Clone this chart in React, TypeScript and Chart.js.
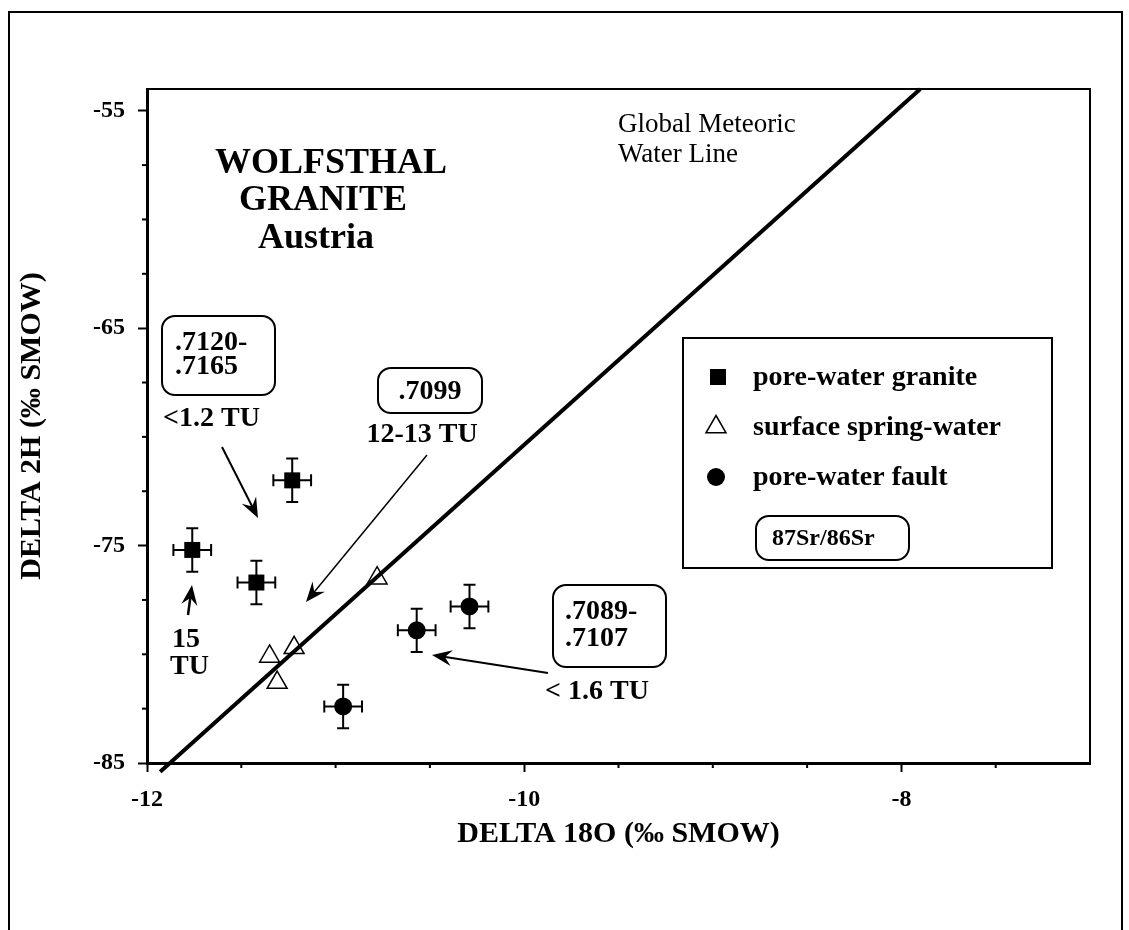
import React, { useEffect, useRef } from 'react';
import { Chart, registerables } from 'chart.js';

Chart.register(...registerables);

// ---------------- data ----------------
const granitX = [-11.76, -11.23, -11.42];
const granitY = [-75.2, -72.0, -76.7];
const granitXErr = [0.1, 0.1, 0.1];
const granitYErr = [1.0, 1.0, 1.0];

const springX = [-10.78, -11.35, -11.22, -11.31];
const springY = [-76.5, -80.1, -79.7, -81.3];

const faultX = [-10.29, -10.57, -10.96];
const faultY = [-77.8, -78.9, -82.4];
const faultXErr = [0.1, 0.1, 0.1];
const faultYErr = [1.0, 1.0, 1.0];

const gmwlX = [-11.93, -7.9];
const gmwlY = [-85.4, -54.0];

const xMajorTicks = [-12, -10, -8];
const xMinorTicks = [-11.5, -11, -10.5, -9.5, -9, -8.5, -7.5];
const yMajorTicks = [-85, -75, -65, -55];
const yMinorTicks = [-82.5, -80, -77.5, -72.5, -70, -67.5, -62.5, -60, -57.5];

const xMin = -12;
const xMax = -7;
const yMin = -85;
const yMax = -54;

const seriesNames = ['pore-water granite', 'surface spring-water', 'pore-water fault'];
const ratioLegendText = '87Sr/86Sr';

// ---------------- layout ----------------
const W = 1129;
const H = 930;
const PLOT_LEFT = 147;
const PLOT_RIGHT = 1090;
const PLOT_TOP = 89;
const PLOT_BOTTOM = 763;
const SERIF = '"Liberation Serif", "Times New Roman", serif';

const toPts = (xs: number[], ys: number[]) => xs.map((x, i) => ({ x, y: ys[i] }));

// annotations, positions relative to chart area top-left (pixels)
type Txt = { t: string; dx: number; dy: number; size: number; bold: boolean; align: CanvasTextAlign; base: CanvasTextBaseline };
const texts: Txt[] = [
  { t: 'WOLFSTHAL', dx: 184, dy: 84, size: 36, bold: true, align: 'center', base: 'alphabetic' },
  { t: 'GRANITE', dx: 176, dy: 121, size: 36, bold: true, align: 'center', base: 'alphabetic' },
  { t: 'Austria', dx: 169, dy: 159, size: 36, bold: true, align: 'center', base: 'alphabetic' },
  { t: 'Global Meteoric', dx: 471, dy: 43, size: 27, bold: false, align: 'left', base: 'alphabetic' },
  { t: 'Water Line', dx: 471, dy: 73, size: 27, bold: false, align: 'left', base: 'alphabetic' },
  { t: '.7120-', dx: 28, dy: 254, size: 28, bold: true, align: 'left', base: 'middle' },
  { t: '.7165', dx: 28, dy: 278, size: 28, bold: true, align: 'left', base: 'middle' },
  { t: '<1.2 TU', dx: 16, dy: 330, size: 28, bold: true, align: 'left', base: 'middle' },
  { t: '.7099', dx: 283, dy: 303, size: 28, bold: true, align: 'center', base: 'middle' },
  { t: '12-13 TU', dx: 275, dy: 346, size: 28, bold: true, align: 'center', base: 'middle' },
  { t: '.7089-', dx: 418, dy: 523, size: 28, bold: true, align: 'left', base: 'middle' },
  { t: '.7107', dx: 418, dy: 550, size: 28, bold: true, align: 'left', base: 'middle' },
  { t: '< 1.6 TU', dx: 398, dy: 603, size: 28, bold: true, align: 'left', base: 'middle' },
  { t: '15', dx: 25, dy: 551, size: 28, bold: true, align: 'left', base: 'middle' },
  { t: 'TU', dx: 23, dy: 578, size: 28, bold: true, align: 'left', base: 'middle' },
];
const boxes = [
  { dx: 15, dy: 227, w: 113, h: 79 },
  { dx: 231, dy: 279, w: 104, h: 45 },
  { dx: 406, dy: 496, w: 113, h: 82 },
];
const arrows = [
  { x1: 75, y1: 358, x2: 111, y2: 429, lw: 2 },
  { x1: 280, y1: 366, x2: 159, y2: 513, lw: 1.5 },
  { x1: 41, y1: 526, x2: 45, y2: 496, lw: 2.5 },
  { x1: 401, y1: 584, x2: 285, y2: 566, lw: 2 },
];
const legendBox = { dx: 536, dy: 249, w: 369, h: 230 };
const legendRows = [
  { mx: 571, my: 288 },
  { mx: 569, my: 338 },
  { mx: 569, my: 388 },
];
const legendTextDx = 606;
const ratioBox = { dx: 609, dy: 427, w: 153, h: 44 };

function roundRect(ctx: CanvasRenderingContext2D, x: number, y: number, w: number, h: number, r: number) {
  ctx.beginPath();
  ctx.moveTo(x + r, y);
  ctx.lineTo(x + w - r, y);
  ctx.arcTo(x + w, y, x + w, y + r, r);
  ctx.lineTo(x + w, y + h - r);
  ctx.arcTo(x + w, y + h, x + w - r, y + h, r);
  ctx.lineTo(x + r, y + h);
  ctx.arcTo(x, y + h, x, y + h - r, r);
  ctx.lineTo(x, y + r);
  ctx.arcTo(x, y, x + r, y, r);
  ctx.closePath();
}

function drawArrow(ctx: CanvasRenderingContext2D, x1: number, y1: number, x2: number, y2: number, lw: number) {
  const ang = Math.atan2(y2 - y1, x2 - x1);
  const c = Math.cos(ang);
  const s = Math.sin(ang);
  const L = 20;
  const hw = 8;
  const p = (along: number, perp: number): [number, number] => [x2 - c * along - s * perp, y2 - s * along + c * perp];
  ctx.lineWidth = lw;
  ctx.beginPath();
  ctx.moveTo(x1, y1);
  const b = p(L * 0.6, 0);
  ctx.lineTo(b[0], b[1]);
  ctx.stroke();
  ctx.beginPath();
  ctx.moveTo(x2, y2);
  const a1 = p(L, hw);
  const a2 = p(L * 0.65, 0);
  const a3 = p(L, -hw);
  ctx.lineTo(a1[0], a1[1]);
  ctx.lineTo(a2[0], a2[1]);
  ctx.lineTo(a3[0], a3[1]);
  ctx.closePath();
  ctx.fill();
}

const minorTickPlugin = {
  id: 'minorTicks',
  afterDraw(chart: any) {
    const ctx = chart.ctx as CanvasRenderingContext2D;
    const xs = chart.scales.x;
    const ys = chart.scales.y;
    const a = chart.chartArea;
    ctx.save();
    ctx.strokeStyle = '#000';
    ctx.lineWidth = 2;
    xMinorTicks.forEach((v) => {
      const px = xs.getPixelForValue(v);
      ctx.beginPath();
      ctx.moveTo(px, a.bottom);
      ctx.lineTo(px, a.bottom + 5);
      ctx.stroke();
    });
    yMinorTicks.forEach((v) => {
      const py = ys.getPixelForValue(v);
      ctx.beginPath();
      ctx.moveTo(a.left, py);
      ctx.lineTo(a.left - 5, py);
      ctx.stroke();
    });
    ctx.restore();
  },
};

const framePlugin = {
  id: 'frames',
  afterDraw(chart: any) {
    const ctx = chart.ctx as CanvasRenderingContext2D;
    const a = chart.chartArea;
    ctx.save();
    ctx.strokeStyle = '#000';
    ctx.lineWidth = 2;
    ctx.beginPath();
    ctx.moveTo(a.left, a.top);
    ctx.lineTo(a.right, a.top);
    ctx.lineTo(a.right, a.bottom);
    ctx.stroke();
    ctx.lineWidth = 2;
    ctx.beginPath();
    ctx.moveTo(9, H + 5);
    ctx.lineTo(9, 12);
    ctx.lineTo(1122, 12);
    ctx.lineTo(1122, H + 5);
    ctx.stroke();
    ctx.restore();
  },
};

const errorBarPlugin = {
  id: 'errorBars',
  beforeDatasetDraw(chart: any, args: any) {
    const ds = chart.data.datasets[args.index] as any;
    if (!ds.xErr) return;
    const ctx = chart.ctx as CanvasRenderingContext2D;
    const xs = chart.scales.x;
    const ys = chart.scales.y;
    ctx.save();
    ctx.strokeStyle = '#000';
    ctx.lineWidth = 2;
    const cap = 6;
    ds.data.forEach((pt: any, i: number) => {
      const px = xs.getPixelForValue(pt.x);
      const py = ys.getPixelForValue(pt.y);
      const xl = xs.getPixelForValue(pt.x - ds.xErr[i]);
      const xr = xs.getPixelForValue(pt.x + ds.xErr[i]);
      const yt = ys.getPixelForValue(pt.y + ds.yErr[i]);
      const yb = ys.getPixelForValue(pt.y - ds.yErr[i]);
      ctx.beginPath();
      ctx.moveTo(xl, py); ctx.lineTo(xr, py);
      ctx.moveTo(xl, py - cap); ctx.lineTo(xl, py + cap);
      ctx.moveTo(xr, py - cap); ctx.lineTo(xr, py + cap);
      ctx.moveTo(px, yt); ctx.lineTo(px, yb);
      ctx.moveTo(px - cap, yt); ctx.lineTo(px + cap, yt);
      ctx.moveTo(px - cap, yb); ctx.lineTo(px + cap, yb);
      ctx.stroke();
    });
    ctx.restore();
  },
};

const annotationPlugin = {
  id: 'annotations',
  afterDraw(chart: any) {
    const ctx = chart.ctx as CanvasRenderingContext2D;
    const a = chart.chartArea;
    const L = a.left;
    const T = a.top;
    ctx.save();
    ctx.fillStyle = '#000';
    ctx.strokeStyle = '#000';
    texts.forEach((t) => {
      ctx.font = `${t.bold ? 'bold ' : ''}${t.size}px ${SERIF}`;
      ctx.textAlign = t.align;
      ctx.textBaseline = t.base;
      ctx.fillText(t.t, L + t.dx, T + t.dy);
    });
    ctx.lineWidth = 2;
    boxes.forEach((b) => {
      roundRect(ctx, L + b.dx, T + b.dy, b.w, b.h, 13);
      ctx.stroke();
    });
    arrows.forEach((r) => drawArrow(ctx, L + r.x1, T + r.y1, L + r.x2, T + r.y2, r.lw));

    // legend
    ctx.lineWidth = 2;
    ctx.strokeRect(L + legendBox.dx, T + legendBox.dy, legendBox.w, legendBox.h);
    const [r0, r1, r2] = legendRows;
    ctx.fillRect(L + r0.mx - 8, T + r0.my - 8, 16, 16);
    ctx.beginPath();
    ctx.moveTo(L + r1.mx, T + r1.my - 11.5);
    ctx.lineTo(L + r1.mx + 10, T + r1.my + 5.75);
    ctx.lineTo(L + r1.mx - 10, T + r1.my + 5.75);
    ctx.closePath();
    ctx.lineWidth = 1.5;
    ctx.stroke();
    ctx.beginPath();
    ctx.arc(L + r2.mx, T + r2.my, 9, 0, Math.PI * 2);
    ctx.fill();
    ctx.font = `bold 28px ${SERIF}`;
    ctx.textAlign = 'left';
    ctx.textBaseline = 'middle';
    legendRows.forEach((r, i) => ctx.fillText(seriesNames[i], L + legendTextDx, T + r.my + 1));
    ctx.lineWidth = 2;
    roundRect(ctx, L + ratioBox.dx, T + ratioBox.dy, ratioBox.w, ratioBox.h, 13);
    ctx.stroke();
    ctx.font = `bold 24px ${SERIF}`;
    ctx.fillText(ratioLegendText, L + ratioBox.dx + 16, T + ratioBox.dy + ratioBox.h / 2 + 1);
    ctx.restore();
  },
};

export default function App() {
  const ref = useRef<HTMLCanvasElement>(null);
  useEffect(() => {
    const canvas = ref.current;
    if (!canvas) return;
    const chart = new Chart(canvas, {
      type: 'scatter',
      data: {
        datasets: [
          {
            type: 'line',
            label: 'Global Meteoric Water Line',
            data: toPts(gmwlX, gmwlY),
            borderColor: '#000',
            borderWidth: 4,
            pointRadius: 0,
            fill: false,
            clip: false,
            order: 0,
          } as any,
          {
            label: seriesNames[1],
            data: toPts(springX, springY),
            pointStyle: 'triangle',
            pointRadius: 11.5,
            backgroundColor: '#fff',
            borderColor: '#000',
            borderWidth: 1.5,
            order: 3,
          },
          {
            label: seriesNames[0],
            data: toPts(granitX, granitY),
            xErr: granitXErr,
            yErr: granitYErr,
            pointStyle: 'rect',
            pointRadius: 11.3,
            backgroundColor: '#000',
            borderColor: '#000',
            borderWidth: 0,
            order: 2,
          } as any,
          {
            label: seriesNames[2],
            data: toPts(faultX, faultY),
            xErr: faultXErr,
            yErr: faultYErr,
            pointStyle: 'circle',
            pointRadius: 9,
            backgroundColor: '#000',
            borderColor: '#000',
            borderWidth: 0,
            order: 1,
          } as any,
        ],
      },
      options: {
        responsive: false,
        animation: false,
        devicePixelRatio: 1,
        layout: { padding: { left: 0, right: W - PLOT_RIGHT, top: PLOT_TOP, bottom: 0 } },
        plugins: { legend: { display: false }, tooltip: { enabled: false } },
        scales: {
          x: {
            type: 'linear',
            min: xMin,
            max: xMax,
            afterBuildTicks: (s: any) => { s.ticks = xMajorTicks.map((v) => ({ value: v })); },
            afterFit: (s: any) => { s.height = H - PLOT_BOTTOM; },
            border: { display: true, color: '#000', width: 3 },
            grid: { display: true, drawOnChartArea: false, drawTicks: true, tickLength: 9, tickWidth: 2, tickColor: '#000', color: '#000' },
            ticks: { color: '#000', padding: 13, maxRotation: 0, autoSkip: false, font: { family: SERIF, size: 24, weight: 'bold' }, callback: (v: any) => String(v) },
            title: { display: true, text: 'DELTA 18O (‰ SMOW)', color: '#000', font: { family: SERIF, size: 30, weight: 'bold' }, padding: { top: 0, bottom: 78 } },
          },
          y: {
            type: 'linear',
            min: yMin,
            max: yMax,
            afterBuildTicks: (s: any) => { s.ticks = yMajorTicks.map((v) => ({ value: v })); },
            afterFit: (s: any) => { s.width = PLOT_LEFT; },
            border: { display: true, color: '#000', width: 3 },
            grid: { display: true, drawOnChartArea: false, drawTicks: true, tickLength: 9, tickWidth: 2, tickColor: '#000', color: '#000' },
            ticks: { color: '#000', padding: 13, autoSkip: false, font: { family: SERIF, size: 24, weight: 'bold' }, callback: (v: any) => String(v) },
            title: { display: true, text: 'DELTA 2H (‰ SMOW)', color: '#000', font: { family: SERIF, size: 30, weight: 'bold' }, padding: { top: 14, bottom: 0 } },
          },
        },
      } as any,
      plugins: [errorBarPlugin, minorTickPlugin, framePlugin, annotationPlugin],
    });
    return () => chart.destroy();
  }, []);
  return (
    <div style={{ position: 'absolute', left: 0, top: 0, width: W, height: H, background: '#fff', overflow: 'hidden' }}>
      <canvas ref={ref} width={W} height={H} style={{ display: 'block', width: W, height: H }} />
    </div>
  );
}
